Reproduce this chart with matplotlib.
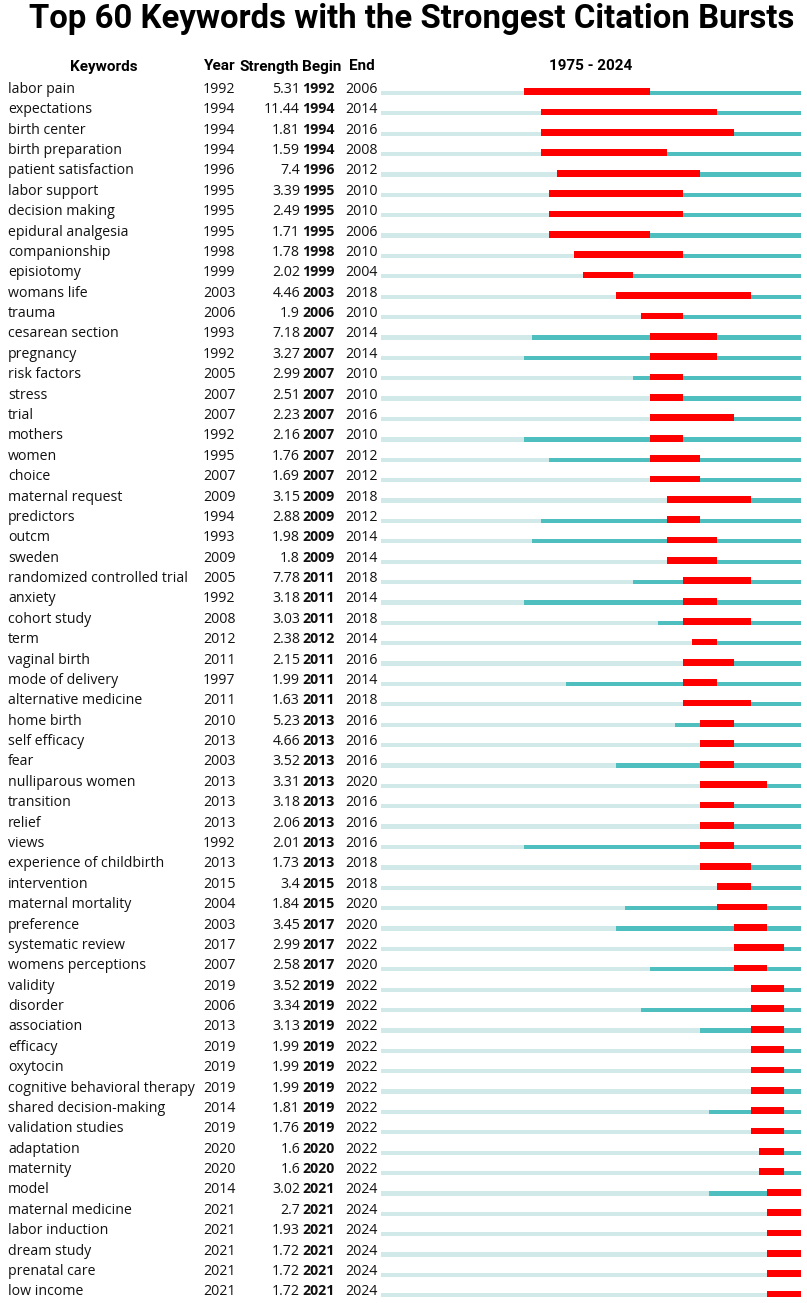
import matplotlib
matplotlib.use('Agg')
import matplotlib.pyplot as plt

# Dados
keywords = ['labor pain', 'expectations', 'birth center', 'birth preparation', 'patient satisfaction',
            'labor support', 'decision making', 'epidural analgesia', 'companionship', 'episiotomy',
            'womans life', 'trauma', 'cesarean section', 'pregnancy', 'risk factors',
            'stress', 'trial', 'mothers', 'women', 'choice',
            'maternal request', 'predictors', 'outcm', 'sweden', 'randomized controlled trial',
            'anxiety', 'cohort study', 'term', 'vaginal birth', 'mode of delivery',
            'alternative medicine', 'home birth', 'self efficacy', 'fear', 'nulliparous women',
            'transition', 'relief', 'views', 'experience of childbirth', 'intervention',
            'maternal mortality', 'preference', 'systematic review', 'womens perceptions', 'validity',
            'disorder', 'association', 'efficacy', 'oxytocin', 'cognitive behavioral therapy',
            'shared decision-making', 'validation studies', 'adaptation', 'maternity', 'model',
            'maternal medicine', 'labor induction', 'dream study', 'prenatal care', 'low income']
year = [1992, 1994, 1994, 1994, 1996, 1995, 1995, 1995, 1998, 1999,
        2003, 2006, 1993, 1992, 2005, 2007, 2007, 1992, 1995, 2007,
        2009, 1994, 1993, 2009, 2005, 1992, 2008, 2012, 2011, 1997,
        2011, 2010, 2013, 2003, 2013, 2013, 2013, 1992, 2013, 2015,
        2004, 2003, 2017, 2007, 2019, 2006, 2013, 2019, 2019, 2019,
        2014, 2019, 2020, 2020, 2014, 2021, 2021, 2021, 2021, 2021]
strength = ['5.31', '11.44', '1.81', '1.59', '7.4', '3.39', '2.49', '1.71', '1.78', '2.02',
            '4.46', '1.9', '7.18', '3.27', '2.99', '2.51', '2.23', '2.16', '1.76', '1.69',
            '3.15', '2.88', '1.98', '1.8', '7.78', '3.18', '3.03', '2.38', '2.15', '1.99',
            '1.63', '5.23', '4.66', '3.52', '3.31', '3.18', '2.06', '2.01', '1.73', '3.4',
            '1.84', '3.45', '2.99', '2.58', '3.52', '3.34', '3.13', '1.99', '1.99', '1.99',
            '1.81', '1.76', '1.6', '1.6', '3.02', '2.7', '1.93', '1.72', '1.72', '1.72']
begin = [1992, 1994, 1994, 1994, 1996, 1995, 1995, 1995, 1998, 1999,
         2003, 2006, 2007, 2007, 2007, 2007, 2007, 2007, 2007, 2007,
         2009, 2009, 2009, 2009, 2011, 2011, 2011, 2012, 2011, 2011,
         2011, 2013, 2013, 2013, 2013, 2013, 2013, 2013, 2013, 2015,
         2015, 2017, 2017, 2017, 2019, 2019, 2019, 2019, 2019, 2019,
         2019, 2019, 2020, 2020, 2021, 2021, 2021, 2021, 2021, 2021]
end = [2006, 2014, 2016, 2008, 2012, 2010, 2010, 2006, 2010, 2004,
       2018, 2010, 2014, 2014, 2010, 2010, 2016, 2010, 2012, 2012,
       2018, 2012, 2014, 2014, 2018, 2014, 2018, 2014, 2016, 2014,
       2018, 2016, 2016, 2016, 2020, 2016, 2016, 2016, 2018, 2018,
       2020, 2020, 2022, 2020, 2022, 2022, 2022, 2022, 2022, 2022,
       2022, 2022, 2022, 2022, 2024, 2024, 2024, 2024, 2024, 2024]
first_year = 1975
last_year = 2024

W, H = 807, 1303
fig = plt.figure(figsize=(W / 100, H / 100), dpi=100)

row_top = 91.7   # centro da primeira barra (px)
row_step = 20.38
n = len(keywords)
y0_px = row_top - row_step / 2
y1_px = row_top + (n - 0.5) * row_step

# eixo da linha do tempo
ax = fig.add_axes([381 / W, (H - y1_px) / H, 420 / W, (y1_px - y0_px) / H])
ax.set_xlim(first_year, last_year + 1)
ax.set_ylim(n - 0.5, -0.5)
ax.axis('off')

rows = list(range(n))
light = '#d2e9e9'
teal = '#4fbebe'
red = '#ff0000'
grey_h = 0.21
red_h = 0.33
ax.barh([r + 0.06 for r in rows], [last_year + 1 - first_year] * n, left=first_year,
        height=grey_h, color=light, linewidth=0)
ax.barh([r + 0.06 for r in rows], [last_year + 1 - y for y in year], left=year,
        height=grey_h, color=teal, linewidth=0)
ax.barh(rows, [e + 1 - b for b, e in zip(begin, end)], left=begin,
        height=red_h, color=red, linewidth=0)

# eixo para o texto das colunas (x em pixels)
tx = fig.add_axes([0, (H - y1_px) / H, 1, (y1_px - y0_px) / H])
tx.set_xlim(0, W)
tx.set_ylim(n - 0.5, -0.5)
tx.axis('off')
tx.patch.set_alpha(0)

body = ['Open Sans', 'DejaVu Sans']
fs = 10.2
off = 0.06
for i in rows:
    tx.text(8, i + off, keywords[i], fontsize=fs, family=body, va='baseline', ha='left', color='#111111')
    tx.text(203, i + off, str(year[i]), fontsize=fs, family=body, va='baseline', ha='left', color='#111111')
    tx.text(300, i + off, strength[i], fontsize=fs, family=body, va='baseline', ha='right', color='#111111')
    tx.text(302, i + off, str(begin[i]), fontsize=fs, family=body, va='baseline', ha='left',
            fontweight='bold', color='#111111')
    tx.text(345, i + off, str(end[i]), fontsize=fs, family=body, va='baseline', ha='left', color='#111111')

# cabecalho
hdr = ['Roboto', 'DejaVu Sans']
hy = (70.5 - row_top) / row_step
hfs = 11
tx.text(104, hy, 'Keywords', fontsize=hfs, family=hdr, fontweight='bold', ha='center', va='baseline', clip_on=False)
tx.text(204, hy, 'Year', fontsize=hfs, family=hdr, fontweight='bold', ha='left', va='baseline', clip_on=False)
tx.text(269, hy, 'Strength', fontsize=hfs, family=hdr, fontweight='bold', ha='center', va='baseline', clip_on=False)
tx.text(322, hy, 'Begin', fontsize=hfs, family=hdr, fontweight='bold', ha='center', va='baseline', clip_on=False)
tx.text(362, hy, 'End', fontsize=hfs, family=hdr, fontweight='bold', ha='center', va='baseline', clip_on=False)
tx.text(591, hy, '%d - %d' % (first_year, last_year), fontsize=hfs, family=hdr, fontweight='bold',
        ha='center', va='baseline', clip_on=False)

title = fig.text(412 / W, 1 - 19 / H, 'Top 60 Keywords with the Strongest Citation Bursts', fontsize=22,
                 family=hdr, fontweight='bold', ha='center', va='center')
# ajustar o tamanho do titulo para a largura da referencia (~765 px)
r = fig.canvas.get_renderer()
w = title.get_window_extent(r).width
title.set_fontsize(22 * 765 / w)

fig.savefig('out.png', dpi=100, facecolor='white')
